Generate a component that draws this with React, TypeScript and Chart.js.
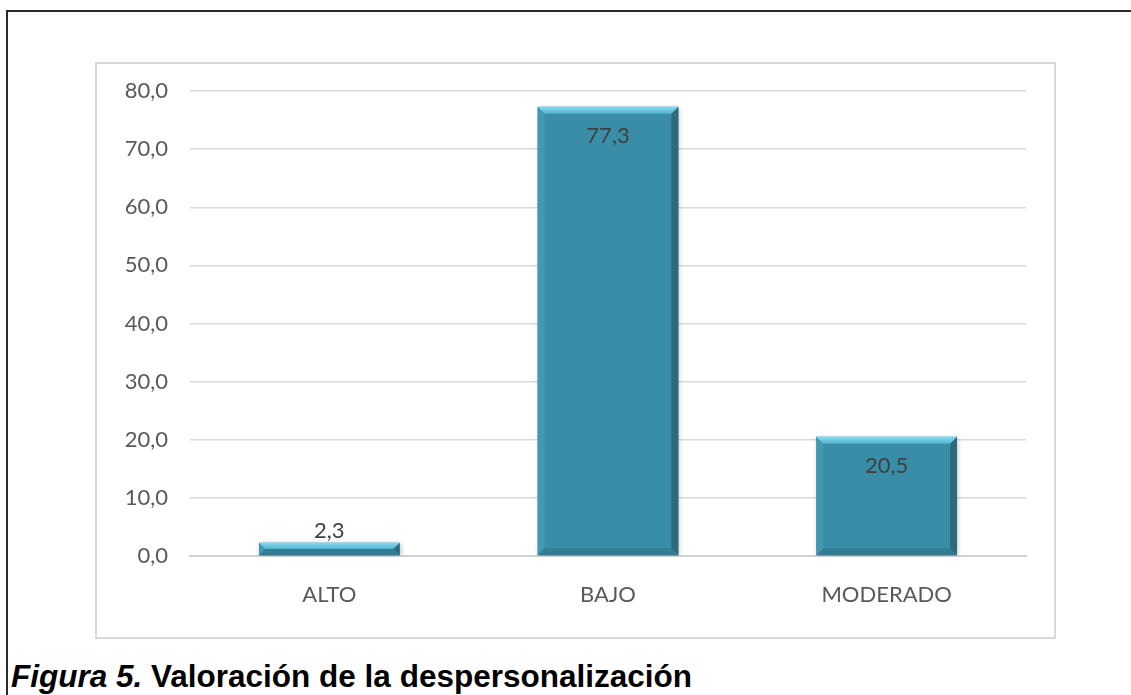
import React, { useEffect, useRef } from "react";
import { Chart, registerables } from "chart.js";

Chart.register(...registerables);

const categories = ["ALTO", "BAJO", "MODERADO"];
const values = [2.3, 77.3, 20.5];
const yTicks = [0, 10, 20, 30, 40, 50, 60, 70, 80];

const fmt = (v: number) => v.toFixed(1).replace(".", ",");

// Bevelled faces and value labels drawn over each bar
const bevelPlugin = {
  id: "bevelBars",
  beforeDatasetsDraw(chart: any) {
    const ctx = chart.ctx;
    ctx.save();
    ctx.shadowColor = "rgba(0,0,0,0.28)";
    ctx.shadowBlur = 5;
    ctx.shadowOffsetX = 1;
    ctx.shadowOffsetY = 1;
  },
  afterDatasetsDraw(chart: any) {
    const ctx = chart.ctx;
    ctx.restore();
    const meta = chart.getDatasetMeta(0);
    meta.data.forEach((bar: any, i: number) => {
      const { x, y, base, width } = bar.getProps(["x", "y", "base", "width"], true);
      const l = x - width / 2;
      const r = x + width / 2;
      const t = y;
      const btm = base;
      const b = Math.min(7, (btm - t) / 2);
      const poly = (pts: number[][], fill: any) => {
        ctx.beginPath();
        ctx.moveTo(pts[0][0], pts[0][1]);
        for (let k = 1; k < pts.length; k++) ctx.lineTo(pts[k][0], pts[k][1]);
        ctx.closePath();
        ctx.fillStyle = fill;
        ctx.fill();
      };
      ctx.save();
      // left face
      poly([[l, t], [l + b, t + b], [l + b, btm - b], [l, btm]], "#4198b1");
      // right face
      poly([[r, t], [r, btm], [r - b, btm - b], [r - b, t + b]], "#2d6a7c");
      // bottom face
      poly([[l, btm], [r, btm], [r - b, btm - b], [l + b, btm - b]], "#327d93");
      // top face
      const g = ctx.createLinearGradient(0, t, 0, t + b);
      g.addColorStop(0, "#86dcf2");
      g.addColorStop(1, "#52b2cb");
      poly([[l, t], [r, t], [r - b, t + b], [l + b, t + b]], g);
      ctx.restore();

      // value label
      ctx.save();
      ctx.font = "22px Lato";
      ctx.fillStyle = "#404040";
      ctx.textAlign = "center";
      ctx.textBaseline = "middle";
      const inside = btm - t > 40;
      ctx.fillText(fmt(values[i]), x, inside ? t + 29 : t - 12);
      ctx.restore();
    });
  },
};

export default function App() {
  const canvasRef = useRef<HTMLCanvasElement | null>(null);

  useEffect(() => {
    if (!canvasRef.current) return;
    const chart = new Chart(canvasRef.current, {
      type: "bar",
      data: {
        labels: categories,
        datasets: [
          {
            data: values,
            backgroundColor: "#398da6",
            borderWidth: 0,
            categoryPercentage: 1,
            barPercentage: 0.505,
          },
        ],
      },
      options: {
        animation: false,
        responsive: false,
        maintainAspectRatio: false,
        layout: { padding: { top: 27, right: 28, left: 0, bottom: 0 } },
        plugins: {
          legend: { display: false },
          tooltip: { enabled: false },
        },
        scales: {
          x: {
            grid: { display: false, drawTicks: false },
            border: { display: true, color: "#d0d0d0", width: 2 },
            ticks: {
              color: "#595959",
              font: { family: "Lato", size: 22 },
              padding: 26,
            },
            afterFit(scale: any) {
              scale.height = 81;
            },
          },
          y: {
            min: 0,
            max: 80,
            afterBuildTicks(scale: any) {
              scale.ticks = yTicks.map((v) => ({ value: v }));
            },
            grid: { color: "#d9d9d9", lineWidth: 1.5, drawTicks: false },
            border: { display: false },
            ticks: {
              color: "#595959",
              font: { family: "Lato", size: 22 },
              padding: 22,
              callback: (v: any) => fmt(Number(v)),
            },
            afterFit(scale: any) {
              scale.width = 93;
              scale.paddingTop = 0;
              scale.paddingBottom = 0;
            },
          },
        },
      },
      plugins: [bevelPlugin],
    });
    return () => chart.destroy();
  }, []);

  return (
    <div
      style={{
        position: "fixed",
        left: 0,
        top: 0,
        width: 1131,
        height: 695,
        background: "#fff",
        overflow: "hidden",
      }}
    >
      <div
        style={{
          position: "absolute",
          left: 6,
          top: 10,
          right: 0,
          bottom: 0,
          borderTop: "2px solid #2a2a2a",
          borderLeft: "2px solid #2a2a2a",
        }}
      />
      <div
        style={{
          position: "absolute",
          left: 95,
          top: 62,
          width: 957,
          height: 573,
          border: "2px solid #d9d9d9",
        }}
      >
        <canvas ref={canvasRef} width={957} height={573} style={{ display: "block" }} />
      </div>
      <div
        style={{
          position: "absolute",
          left: 11,
          top: 661,
          lineHeight: "31.5px",
          fontSize: 31.5,
          fontFamily: "'Liberation Sans', Arial, sans-serif",
          fontWeight: "bold",
          color: "#000",
          whiteSpace: "nowrap",
        }}
      >
        <i>Figura 5.</i> Valoración de la despersonalización
      </div>
    </div>
  );
}
